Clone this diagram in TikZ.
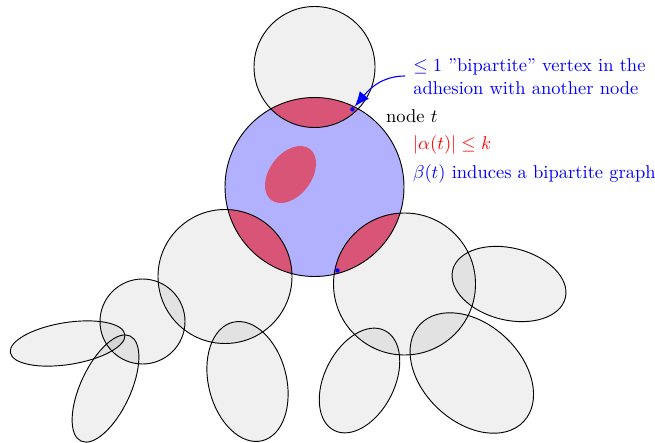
\documentclass[tikz,border=0pt]{standalone}
\usetikzlibrary{arrows.meta}
\definecolor{lensc}{RGB}{217,85,120}
\definecolor{diskc}{RGB}{177,177,255}
\begin{document}
\begin{tikzpicture}[x=0.54pt,y=-0.54pt,
  bag/.style={fill=black,fill opacity=0.06},
  outl/.style={draw=black,line width=0.5pt},
  lbl/.style={anchor=base west,inner sep=0pt,font=\normalsize},
  bdot/.style={circle,fill=blue,inner sep=0pt,minimum size=2.4pt}]
\useasboundingbox (0,0) rectangle (655,443);
% translucent bags
\foreach \cx/\cy/\a/\b/\r in {67.6/343.5/58/21/9, 105.5/388.5/58/25/65, 247.5/381.5/61/39/104, 359.5/380.5/56/35/63, 471.8/373/71/49/-43, 509/284/58/36/-14, 314.5/67/60.5/60.5/0, 225/276.5/67/67/0, 404.5/284/71/71/0, 142.5/321.5/42.5/42.5/0}
  {\path[bag,rotate around={\r:(\cx,\cy)}] (\cx,\cy) ellipse [x radius=\a, y radius=\b];}
% the bag of node t
\fill[diskc] (314.5,187) circle [radius=89.5];
\begin{scope}
  \clip (314.5,187) circle [radius=89.5];
  \fill[lensc] (314.5,67) circle [radius=60.5] (225,276.5) circle [radius=67] (404.5,284) circle [radius=71];
\end{scope}
\fill[lensc,rotate around={53:(290.5,174.5)}] (290.5,174.5) ellipse [x radius=32, y radius=21];
% outlines
\foreach \cx/\cy/\a/\b/\r in {67.6/343.5/58/21/9, 105.5/388.5/58/25/65, 247.5/381.5/61/39/104, 359.5/380.5/56/35/63, 471.8/373/71/49/-43, 509/284/58/36/-14, 314.5/67/60.5/60.5/0, 225/276.5/67/67/0, 404.5/284/71/71/0, 142.5/321.5/42.5/42.5/0, 314.5/187/89.5/89.5/0}
  {\draw[outl,rotate around={\r:(\cx,\cy)}] (\cx,\cy) ellipse [x radius=\a, y radius=\b];}
% vertices
\node[bdot] (dotA) at (352.4,109.3) {};
\node[bdot] (dotB) at (337.5,270.5) {};
% labels
\node[lbl,text=blue] (t1) at (413,71.7) {$\leq 1$ ”bipartite” vertex in the};
\node[lbl,text=blue] (t2) at (413,95) {adhesion with another node};
\node[lbl] (nt) at (385.7,122.5) {node $t$};
\node[lbl,text=red] (al) at (412.7,150) {$|\alpha(t)| \leq k$};
\node[lbl,text=blue] (be) at (412.7,179) {$\beta(t)$ induces a bipartite graph};
% arrow
\coordinate (arrS) at (405,76);
\draw[blue,line width=0.6pt,-{Latex[length=8pt,width=6.5pt]},shorten >=0.6pt] (arrS) to[out=180,in=50] (dotA);
\end{tikzpicture}
\end{document}
